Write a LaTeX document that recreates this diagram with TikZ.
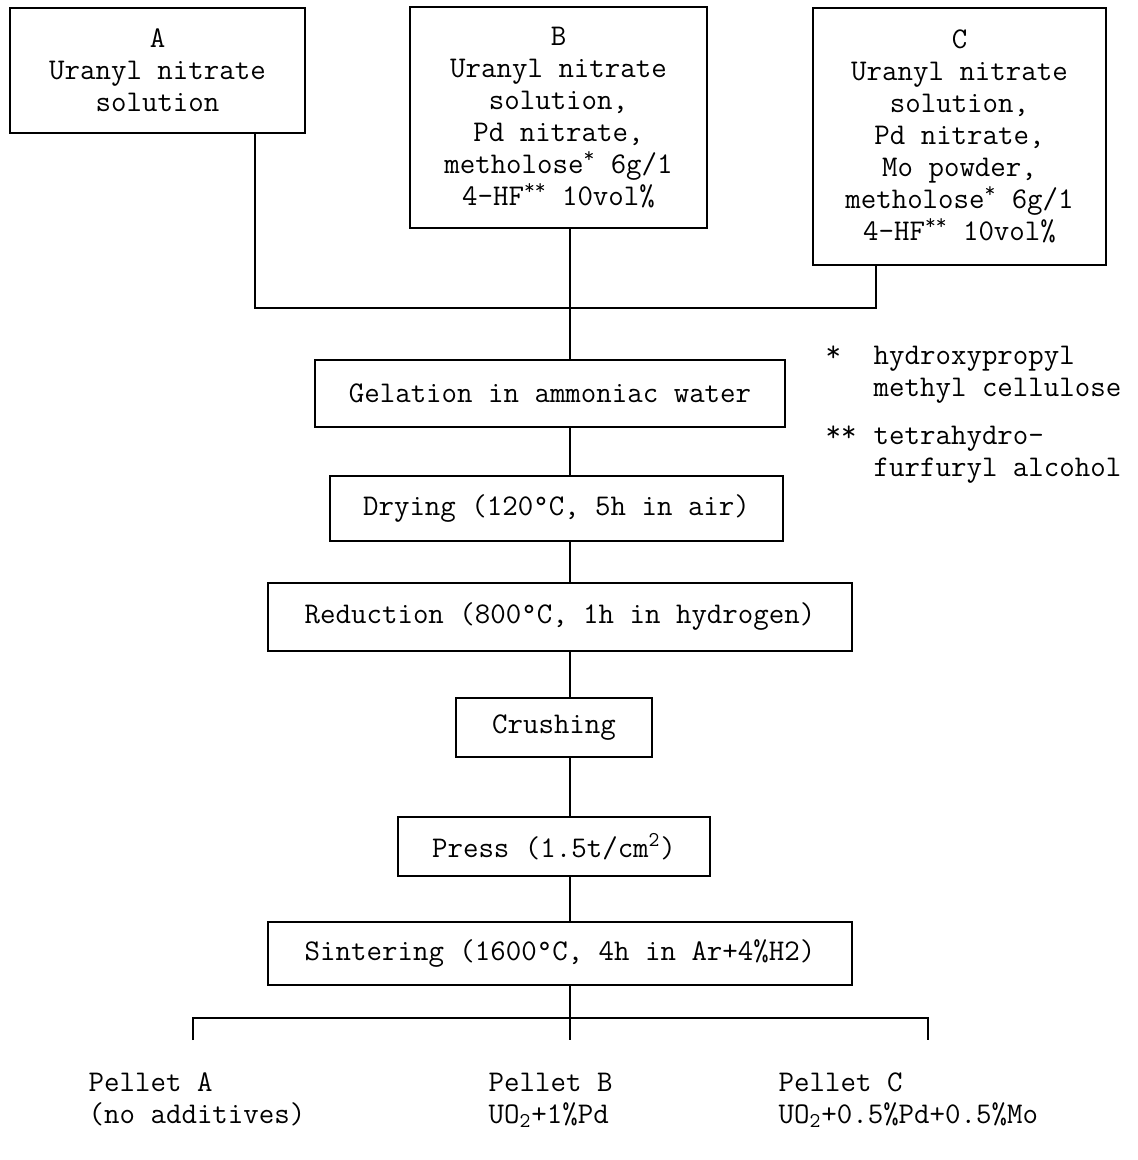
\documentclass[tikz,border=0pt]{standalone}
\usepackage{fontspec}

\begin{document}
\begin{tikzpicture}[x=0.02cm, y=-0.02cm, line width=0.8pt,
    % --- 样式定义 ---
    stepbox/.style={draw, inner sep=0pt, align=center,
        font=\ttfamily\fontsize{17.1}{18.2}\selectfont},
    note_text/.style={inner sep=0pt, align=left, anchor=north west,
        font=\ttfamily\fontsize{17.1}{18.2}\selectfont}
]
    \useasboundingbox (0,0) rectangle (1138,1160);

    % =========================================
    % 【原料】 三种溶液 A, B, C
    % =========================================
    \node[stepbox, minimum width=5.90cm, minimum height=2.50cm] (boxA) at (157.5, 70.5)
        {A\\Uranyl nitrate\\solution};
    \node[stepbox, minimum width=5.94cm, minimum height=4.42cm] (boxB) at (558.5, 117.5)
        {B\\Uranyl nitrate\\solution,\\Pd nitrate,\\metholose\textsuperscript{*} 6g/1\\4-HF\textsuperscript{**} 10vol\%};
    \node[stepbox, minimum width=5.86cm, minimum height=5.14cm] (boxC) at (959.5, 136.5)
        {C\\Uranyl nitrate\\solution,\\Pd nitrate,\\Mo powder,\\metholose\textsuperscript{*} 6g/1\\4-HF\textsuperscript{**} 10vol\%};

    % --- 汇合点 ---
    \coordinate (axis) at (570, 0);      % 主流程竖线
    \coordinate (joinA) at (255, 308);
    \coordinate (joinC) at (876, 308);

    % =========================================
    % 【流程】 凝胶 -> 烧结
    % =========================================
    \node[stepbox, minimum width=9.40cm, minimum height=1.34cm] (gel) at (550, 393.5)
        {Gelation in ammoniac water};
    \node[stepbox, minimum width=9.06cm, minimum height=1.30cm] (dry) at (556.5, 508.5)
        {Drying (120°C, 5h in air)};
    \node[stepbox, minimum width=11.68cm, minimum height=1.36cm] (red) at (560, 617)
        {Reduction (800°C, 1h in hydrogen)};
    \node[stepbox, minimum width=3.92cm, minimum height=1.18cm] (cru) at (554, 727.5)
        {Crushing};
    \node[stepbox, minimum width=6.24cm, minimum height=1.18cm] (press) at (554, 846.5)
        {Press (1.5t/cm\textsuperscript{2})};
    \node[stepbox, minimum width=11.68cm, minimum height=1.26cm] (sint) at (560, 953.5)
        {Sintering (1600°C, 4h in Ar+4\%H2)};

    % --- 连线 ---
    \draw (boxA.south -| joinA) -- (joinA) -- (joinC) -- (boxC.south -| joinC);
    \draw (boxB.south -| axis) -- (gel.north -| axis);
    \foreach \a/\b in {gel/dry, dry/red, red/cru, cru/press, press/sint}
        \draw (\a.south -| axis) -- (\b.north -| axis);

    % =========================================
    % 【产物】 三种芯块
    % =========================================
    \coordinate (forkL) at (193, 1018);
    \coordinate (forkR) at (928, 1018);
    \coordinate (tickL) at (193, 1040);
    \coordinate (tickB) at (570, 1040);
    \coordinate (tickR) at (928, 1040);

    \draw (sint.south -| axis) -- (tickB);
    \draw (tickL) -- (forkL) -- (forkR) -- (tickR);

    \node[note_text] (pelA) at (88, 1072) {Pellet A\\(no additives)};
    \node[note_text] (pelB) at (488, 1072) {Pellet B\\UO\textsubscript{2}+1\%Pd};
    \node[note_text] (pelC) at (778, 1072) {Pellet C\\UO\textsubscript{2}+0.5\%Pd+0.5\%Mo};

    % --- 脚注 ---
    \node[note_text] (mark1) at (825, 345) {*};
    \node[note_text] (note1) at (873, 345) {hydroxypropyl\\methyl cellulose};
    \node[note_text] (mark2) at (825, 425) {**};
    \node[note_text] (note2) at (873, 425) {tetrahydro-\\furfuryl alcohol};

\end{tikzpicture}
\end{document}
